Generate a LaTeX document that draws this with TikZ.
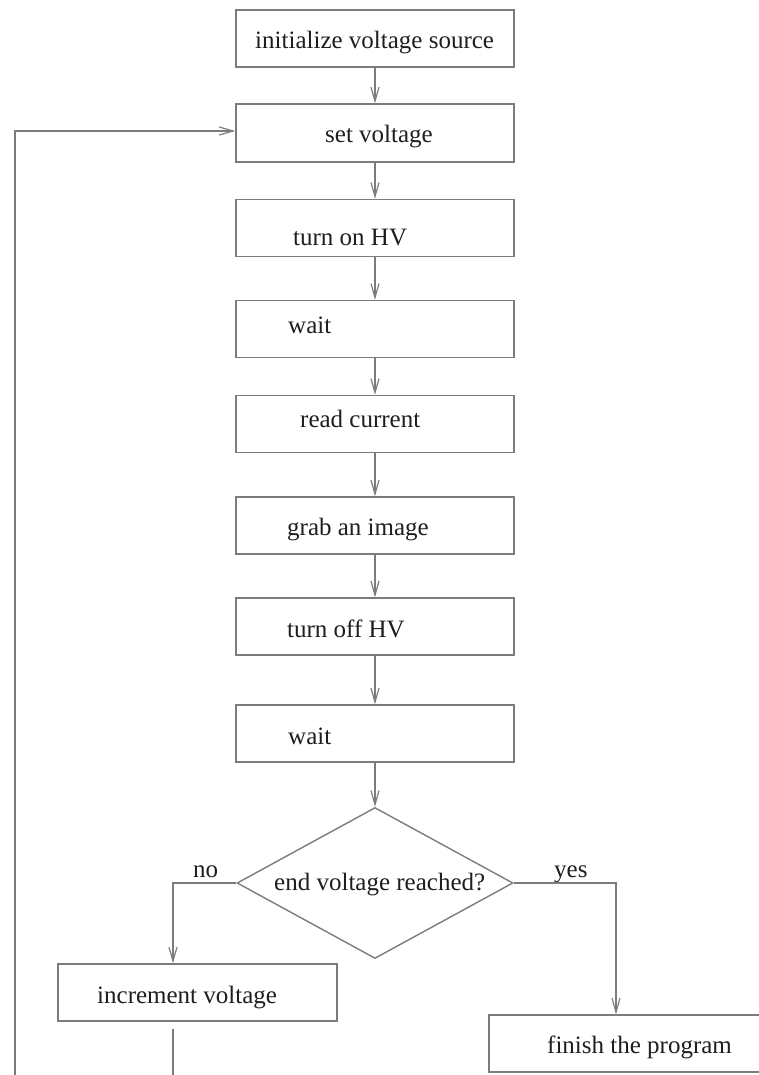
\documentclass[tikz,border=0pt]{standalone}
\usepackage{fontspec}
\setmainfont{Liberation Serif}
\usetikzlibrary{arrows.meta,shapes.geometric}

\definecolor{linegray}{HTML}{7C7C7C}
\definecolor{textgray}{HTML}{1E1E1E}

\tikzset{
  stepbox/.style={draw=linegray, line width=1.4pt, rectangle, inner sep=0pt,
    minimum width=278pt, minimum height=57pt},
  decision/.style={draw=linegray, line width=1.4pt, diamond, inner sep=0pt,
    minimum width=276pt, minimum height=151pt},
  lbl/.style={anchor=base west, inner sep=0pt, text=textgray,
    font=\fontsize{25}{30}\selectfont},
  conn/.style={draw=linegray, line width=1.4pt},
  arr/.style={conn, -{Straight Barb[length=14pt,width=8pt,line width=1.2pt]}},
}

\begin{document}
\begin{tikzpicture}[x=1pt, y=-1pt]
  \useasboundingbox (0,0) rectangle (758,1075);

  % main column of steps
  \node[stepbox] (init)  at (375, 38.5)  {};
  \node[stepbox, minimum height=58pt] (setv) at (375, 133) {};
  \node[stepbox] (hvon)  at (375, 228)   {};
  \node[stepbox] (wait1) at (375, 329)   {};
  \node[stepbox] (readc) at (375, 424)   {};
  \node[stepbox] (grab)  at (375, 525.5) {};
  \node[stepbox] (hvoff) at (375, 626.5) {};
  \node[stepbox] (wait2) at (375, 733.5) {};
  \node[decision] (dec)  at (375, 883)   {};

  % the two outcomes (the right one runs past the page edge)
  \node[stepbox, minimum width=279pt] (inc) at (197.5, 992.5) {};
  \node[stepbox, minimum width=282pt] (fin) at (630, 1043.5) {};

  % step texts
  \node[lbl] (tinit)  at (255, 49)   {initialize voltage source};
  \node[lbl] (tsetv)  at (325, 143)  {set voltage};
  \node[lbl] (thvon)  at (293, 245)  {turn on HV};
  \node[lbl] (twait1) at (288, 333)  {wait};
  \node[lbl] (treadc) at (300, 427)  {read current};
  \node[lbl] (tgrab)  at (287, 535)  {grab an image};
  \node[lbl] (thvoff) at (287, 637)  {turn off HV};
  \node[lbl] (twait2) at (288, 744)  {wait};
  \node[lbl] (tdec)   at (274, 890)  {end voltage reached?};
  \node[lbl] (tinc)   at (97, 1003)  {increment voltage};
  \node[lbl] (tfin)   at (547, 1053) {finish the program};
  \node[lbl] (tno)    at (193, 877)  {no};
  \node[lbl] (tyes)   at (554, 877)  {yes};

  % straight flow
  \draw[arr] (init)  -- (setv);
  \draw[arr] (setv)  -- (hvon);
  \draw[arr] (hvon)  -- (wait1);
  \draw[arr] (wait1) -- (readc);
  \draw[arr] (readc) -- (grab);
  \draw[arr] (grab)  -- (hvoff);
  \draw[arr] (hvoff) -- (wait2);
  \draw[arr] (wait2) -- (dec);

  % branches of the decision
  \draw[arr] (dec.west) -| ([xshift=-24.5pt]inc.north);
  \draw[arr] (dec.east) -| ([xshift=-14pt]fin.north);

  % loop back to "set voltage"
  \coordinate (incend)  at (173, 1075);
  \coordinate (loopend) at (15, 1075);
  \draw[conn] ([xshift=-24.5pt,yshift=-7pt]inc.south) -- (incend);
  \draw[arr] (loopend) |- ([yshift=2pt]setv.west);
\end{tikzpicture}
\end{document}
